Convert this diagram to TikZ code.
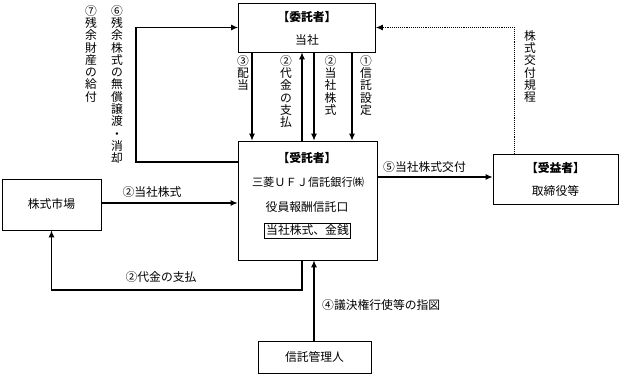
\documentclass[tikz,border=0pt]{standalone}
\usepackage{fontspec}
\setmainfont{Noto Sans CJK JP}
\usetikzlibrary{arrows.meta,calc}
\tikzset{
  box/.style={draw,line width=0.8pt,rectangle,inner sep=0pt},
  arr/.style={line width=1.1pt,-{Latex[length=7pt,width=6pt]}},
  txt/.style={inner sep=0pt,font=\fontsize{11.8}{12.3}\selectfont},
  vlab/.style={txt,anchor=north,align=center},
}
\begin{document}
\begin{tikzpicture}[x=1pt,y=-1pt]
\useasboundingbox (0,0) rectangle (619,374);
% boxes
\node[box,minimum width=137pt,minimum height=49pt] (itaku) at (307,27.5) {};
\node[box,minimum width=139pt,minimum height=119pt] (jutaku) at (307.5,200.5) {};
\node[box,minimum width=99pt,minimum height=51pt] (market) at (51.5,204.5) {};
\node[box,minimum width=125pt,minimum height=50pt] (juekisha) at (555.5,179) {};
\node[box,minimum width=113pt,minimum height=32pt] (kanri) at (314.5,357) {};
% box texts
\node[txt,font=\fontsize{11.8}{12.3}\selectfont\bfseries] (t1) at (307,17) {【委託者】};
\node[txt] (t2) at (307,40) {当社};
\node[txt,font=\fontsize{11.8}{12.3}\selectfont\bfseries] (t3) at (307,158) {【受託者】};
\node[txt,font=\fontsize{11.2}{12}\selectfont] (t4) at (308,182) {三菱ＵＦＪ信託銀行㈱};
\node[txt] (t5) at (307,207) {役員報酬信託口};
\node[draw,line width=0.6pt,txt,inner xsep=1.5pt,inner ysep=2pt,text height=9pt,text depth=2.5pt] (t6) at (307.5,231) {当社株式、金銭};
\node[txt] (t7) at (51.5,204.5) {株式市場};
\node[txt,font=\fontsize{11.8}{12.3}\selectfont\bfseries] (t8) at (555.5,168) {【受益者】};
\node[txt] (t9) at (555.5,191) {取締役等};
\node[txt] (t10) at (314.5,357) {信託管理人};
% vertical arrows between itaku and jutaku
\draw[arr] ([xshift=-55pt]itaku.south) -- ([xshift=-55.5pt]jutaku.north);
\draw[arr] ([xshift=-5.5pt]jutaku.north) -- ([xshift=-5pt]itaku.south);
\draw[arr] ([xshift=7pt]itaku.south) -- ([xshift=6.5pt]jutaku.north);
\draw[arr] ([xshift=45pt]itaku.south) -- ([xshift=44.5pt]jutaku.north);
\node[vlab] (l3) at (243,55) {③\\配\\当};
\node[vlab] (l2a) at (286,55) {②\\代\\金\\の\\支\\払};
\node[vlab] (l2b) at (330.5,55) {②\\当\\社\\株\\式};
\node[vlab] (l1) at (366,55) {①\\信\\託\\設\\定};
% left loop
\coordinate (lc) at (136,27.5);
\draw[arr] ([yshift=38.5pt]jutaku.west) -| (lc) -- (itaku.west);
\node[vlab] (l6) at (117,5) {⑥\\残\\余\\株\\式\\の\\無\\償\\譲\\渡\\・\\消\\却};
\node[vlab] (l7) at (91,5) {⑦\\残\\余\\財\\産\\の\\給\\付};
% market
\draw[arr] ([yshift=1.5pt]market.east) -- ([yshift=1.5pt]jutaku.west |- market.east);
\node[txt] (l2c) at (152,192) {②当社株式};
\coordinate (rc) at (51.5,290);
\draw[arr] ([xshift=-5.5pt]jutaku.south) |- (rc) -- (market.south);
\node[txt] (l2d) at (161,277) {②代金の支払};
% kanri
\draw[arr] ([xshift=-0.5pt]kanri.north) -- ([xshift=-0.5pt]jutaku.south -| kanri.north);
\node[txt,anchor=west] (l4) at (322,305) {④議決権行使等の指図};
% juekisha
\draw[arr] ([yshift=2pt]jutaku.east |- juekisha.west) -- ([yshift=2pt]juekisha.west);
\node[txt,anchor=west] (l5) at (383,167) {⑤当社株式交付};
\draw[line width=0.9pt,densely dotted,-{Latex[length=7pt,width=6pt]}] ([xshift=-41.5pt]juekisha.north) |- (itaku.east);
\node[vlab] (lk) at (530,30) {株\\式\\交\\付\\規\\程};
\end{tikzpicture}
\end{document}
